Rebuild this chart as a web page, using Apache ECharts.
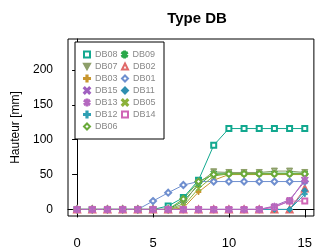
<!DOCTYPE html>
<html>
<head>
<meta charset="utf-8">
<script src="https://cdn.jsdelivr.net/npm/echarts@6/dist/echarts.min.js"></script>
<style>
  html, body { margin: 0; padding: 0; background: #fff; }
  #chart { width: 315px; height: 250px; }
</style>
</head>
<body>
<div id="chart"></div>
<script>
// jours
var days = [0, 1, 2, 3, 4, 5, 6, 7, 8, 9, 10, 11, 12, 13, 14, 15];
var xTicks = [0, 5, 10, 15];
var yTicks = [0, 50, 100, 150, 200];

// hauteur [mm] par type
var db08 = [0, 0, 0, 0, 0, 0, 5, 17, 42, 92, 116, 116, 116, 116, 116, 116];
var db09 = [0, 0, 0, 0, 0, 0, 0, 12, 35, 52, 52, 52, 52, 52, 52, 52];
var db07 = [0, 0, 0, 0, 0, 0, 0, 8, 38, 54, 53, 53, 53, 55, 55, 53];
var db02 = [0, 0, 0, 0, 0, 0, 0, 0, 0, 0, 0, 0, 0, 0, 0, 30];
var db03 = [0, 0, 0, 0, 0, 0, 0, 2, 25, 42, 50, 50, 50, 50, 50, 50];
var db01 = [0, 0, 0, 0, 0, 12, 24, 35, 40, 40, 40, 40, 40, 40, 40, 40];
var db15 = [0, 0, 0, 0, 0, 0, 0, 0, 0, 0, 0, 0, 0, 5, 14, 40];
var db11 = [0, 0, 0, 0, 0, 0, 0, 0, 0, 0, 0, 0, 0, 0, 0, 27];
var db13 = [0, 0, 0, 0, 0, 0, 0, 0, 0, 0, 0, 0, 0, 4, 12, 43];
var db05 = [0, 0, 0, 0, 0, 0, 0, 5, 30, 48, 51, 51, 51, 51, 51, 51];
var db12 = [0, 0, 0, 0, 0, 0, 0, 0, 0, 0, 0, 0, 0, 0, 0, 22];
var db14 = [0, 0, 0, 0, 0, 0, 0, 0, 0, 0, 0, 0, 0, 3, 12, 12];
var db06 = [0, 0, 0, 0, 0, 0, 0, 15, 40, 50, 51, 51, 51, 51, 51, 51];

var legendOrder = ['DB08', 'DB09', 'DB07', 'DB02', 'DB03', 'DB01', 'DB15', 'DB11', 'DB13', 'DB05', 'DB12', 'DB14', 'DB06'];

var plus = 'path://M4,0H6V4H10V6H6V10H4V6H0V4H4Z';
var cross = 'path://M1.4,0L5,3.6L8.6,0L10,1.4L6.4,5L10,8.6L8.6,10L5,6.4L1.4,10L0,8.6L3.6,5L0,1.4Z';
var star = 'path://M4.3,0H5.7V3.3L8.6,1.6L9.3,2.8L6.4,4.5V5.5L9.3,7.2L8.6,8.4L5.7,6.7V10H4.3V6.7L1.4,8.4L0.7,7.2L3.6,5.5V4.5L0.7,2.8L1.4,1.6L4.3,3.3Z';
// triangle pointe en bas, creux
var triDown = 'path://M0,0H10L5,9Z M2.2,1.3L5,6.3L7.8,1.3Z';

var icons = {};

function serie(name, data, color, symbol, extra) {
    icons[name] = symbol;
    var s = {
        name: name,
        type: 'line',
        data: days.map(function (d, i) { return [d, data[i]]; }),
        symbol: symbol,
        symbolSize: 5,
        showAllSymbol: true,
        lineStyle: { width: 1, color: color },
        itemStyle: { color: color, borderColor: color, borderWidth: 1 },
        animation: false
    };
    for (var k in extra) s[k] = extra[k];
    return s;
}

var series = [
    serie('DB08', db08, '#12a88f', 'emptyRect', {}),
    serie('DB09', db09, '#2aa84a', star, { symbolSize: 6 }),
    serie('DB07', db07, '#8e9f6a', triDown, { symbolSize: 6 }),
    serie('DB02', db02, '#e06a6a', 'emptyTriangle', { symbolSize: 6 }),
    serie('DB03', db03, '#c8962e', plus, {}),
    serie('DB01', db01, '#6f8fcf', 'emptyDiamond', { symbolSize: 6 }),
    serie('DB11', db11, '#2f8fb0', 'diamond', { symbolSize: 6 }),
    serie('DB05', db05, '#8bb23a', cross, {}),
    serie('DB12', db12, '#2f9fb3', plus, {}),
    serie('DB06', db06, '#6aaa3a', 'emptyDiamond', { symbolSize: 6 }),
    serie('DB15', db15, '#a060c0', cross, {}),
    serie('DB14', db14, '#d065b5', 'emptyRect', {}),
    serie('DB13', db13, '#b468bf', star, { symbolSize: 7 })
];

var chart = echarts.init(document.getElementById('chart'));
chart.setOption({
    title: {
        text: 'Type DB',
        left: 192,
        textAlign: 'center',
        top: 6,
        textStyle: { fontSize: 15, fontWeight: 'bold', color: '#000', fontFamily: 'Liberation Sans' }
    },
    legend: {
        data: legendOrder.map(function (n) { return { name: n, icon: icons[n] }; }),
        left: 75,
        top: 42,
        width: 76,
        padding: [8, 8],
        itemGap: 3,
        itemWidth: 6,
        itemHeight: 6,
        borderColor: '#000',
        borderWidth: 1,
        backgroundColor: '#fff',
        textStyle: { fontSize: 9, color: '#888', width: 23, lineHeight: 9, fontFamily: 'Liberation Sans' }
    },
    grid: {
        left: 68,
        top: 39,
        right: 0,
        bottom: 31,
        show: true,
        borderColor: '#000',
        borderWidth: 1
    },
    xAxis: {
        type: 'value',
        min: -0.6,
        max: 15.6,
        splitLine: { show: false },
        axisLine: { show: true, lineStyle: { color: '#000' } },
        axisTick: { length: 8, customValues: xTicks, lineStyle: { color: '#000' } },
        axisLabel: { customValues: xTicks, margin: 21, fontSize: 13, color: '#000', fontFamily: 'Liberation Sans' }
    },
    yAxis: {
        type: 'value',
        min: -9.4,
        max: 244.4,
        name: 'Hauteur [mm]',
        nameLocation: 'middle',
        nameGap: 46,
        nameTextStyle: { fontSize: 12, color: '#000', fontFamily: 'Liberation Sans' },
        splitLine: { show: false },
        axisLine: { show: true, lineStyle: { color: '#000' } },
        axisTick: { length: 5, customValues: yTicks, lineStyle: { color: '#000' } },
        axisLabel: { customValues: yTicks, margin: 15, fontSize: 12, color: '#000', fontFamily: 'Liberation Sans' }
    },
    series: series
});
</script>
</body>
</html>
